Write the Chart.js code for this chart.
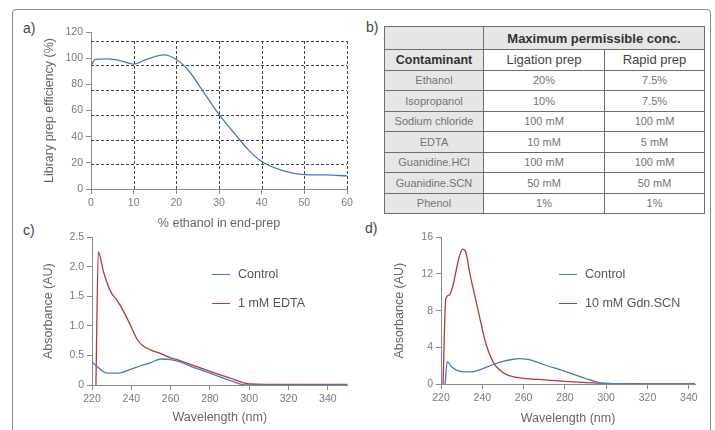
<!DOCTYPE html>
<html>
<head>
<meta charset="utf-8">
<script src="https://cdn.jsdelivr.net/npm/chart.js@4.4.0/dist/chart.umd.min.js"></script>
<style>
  body { margin: 0; width: 715px; height: 430px; overflow: hidden; background: #fff; position: relative;
         font-family: "Liberation Sans", Arial, sans-serif; }
  #frame { position: absolute; left: 12px; top: 9px; width: 697px; height: 440px; border: 1px solid #8c8c8c; border-radius: 4px; }
  .lbl { position: absolute; font-size: 14px; color: #444; line-height: 16px; }
  canvas { position: absolute; }
  #tbl { position: absolute; left: 384px; top: 26px; width: 320px; border-collapse: collapse; table-layout: fixed; }
  #tbl td { border: 1px solid #6e6e6e; text-align: center; padding: 0; font-size: 11px; color: #747474; height: 19.5px; }
  #tbl td.g { background: #e6e6e6; }
  #tbl tr.h1 td { height: 22px; font-size: 13px; font-weight: bold; color: #333; }
  #tbl tr.h2 td { height: 19.5px; font-size: 13px; color: #444; }
  #tbl tr.h2 td.g { font-weight: bold; color: #333; font-size: 12.5px; }
  .legend { position: absolute; font-size: 12.5px; color: #555; }
  .legend div { position: relative; height: 29px; line-height: 14px; }
  .legend span.ln { position: absolute; top: 7px; height: 0; border-top: 1.3px solid; width: 18px; left: 0; }
  .legend span.tx { position: absolute; left: 26px; top: 0; white-space: nowrap; }
</style>
</head>
<body>
<div id="frame"></div>
<div class="lbl" style="left:23px; top:20px;">a)</div>
<div class="lbl" style="left:366px; top:19px;">b)</div>
<div class="lbl" style="left:23px; top:222px;">c)</div>
<div class="lbl" style="left:365px; top:220px;">d)</div>

<canvas id="chartA" width="330" height="220" style="left:28px; top:18px; width:330px; height:220px;"></canvas>
<canvas id="chartC" width="330" height="200" style="left:28px; top:228px; width:330px; height:200px;"></canvas>
<canvas id="chartD" width="330" height="200" style="left:375px; top:228px; width:330px; height:200px;"></canvas>

<table id="tbl">
  <colgroup><col style="width:99px"><col style="width:121px"><col style="width:100px"></colgroup>
  <tr class="h1"><td class="g"></td><td class="g" colspan="2">Maximum permissible conc.</td></tr>
  <tr class="h2"><td class="g">Contaminant</td><td>Ligation prep</td><td>Rapid prep</td></tr>
</table>

<div class="legend" id="legendC" style="left:212px; top:267px;"></div>
<div class="legend" id="legendD" style="left:559px; top:267px;"></div>

<script>
Chart.defaults.font.family = '"Liberation Sans", Arial, sans-serif';

// a) library prep efficiency vs ethanol
var ethanolPct = [0, 1, 4, 7, 10, 13, 17, 20, 23, 26, 30, 34, 37, 40, 45, 50, 55, 60];
var prepEfficiency = [94, 99, 99.5, 98, 95.5, 99, 102.5, 99, 90, 76, 57, 41, 29.5, 21, 14, 11, 10.8, 10];
var ethanolTicks = [0, 10, 20, 30, 40, 50, 60];
var efficiencyTicks = [0, 20, 40, 60, 80, 100, 120];
var efficiencyGrid = [18.9, 37.8, 56.7, 75.6, 94.5, 113.3];

// b) table
var contaminants = ["Ethanol", "Isopropanol", "Sodium chloride", "EDTA", "Guanidine.HCl", "Guanidine.SCN", "Phenol"];
var ligationConc = ["20%", "10%", "100 mM", "10 mM", "100 mM", "50 mM", "1%"];
var rapidConc = ["7.5%", "7.5%", "100 mM", "5 mM", "100 mM", "50 mM", "1%"];

// c) EDTA spectra
var controlNmC = [220, 223, 226, 228, 233, 240, 245, 250, 255, 260, 265, 270, 280, 290, 296, 300, 350];
var controlAbsC = [0.39, 0.3, 0.22, 0.2, 0.2, 0.27, 0.33, 0.38, 0.44, 0.43, 0.39, 0.32, 0.2, 0.08, 0.01, 0, 0];
var edtaNm = [222, 223.2, 226, 229.5, 233, 236, 240, 243, 246, 250, 255, 260, 265, 270, 280, 290, 300, 320, 350];
var edtaAbs = [0, 2.25, 1.9, 1.58, 1.42, 1.25, 0.98, 0.77, 0.66, 0.59, 0.53, 0.46, 0.41, 0.35, 0.23, 0.12, 0.02, 0.01, 0.01];
var nmTicksC = [220, 240, 260, 280, 300, 320, 340];
var absTicksC = [0, 0.5, 1.0, 1.5, 2.0, 2.5];
var absLabelsC = ["0", "0.5", "1.0", "1.5", "2.0", "2.5"];

// d) Gdn.SCN spectra
var controlNmD = [222, 223, 225, 228, 231, 235, 240, 245, 250, 255, 258, 262, 265, 270, 280, 290, 297, 300, 320, 343];
var controlAbsD = [0, 2.45, 1.9, 1.45, 1.32, 1.32, 1.65, 2.1, 2.47, 2.7, 2.76, 2.68, 2.5, 2.1, 1.38, 0.6, 0.12, 0.06, 0.02, 0];
var gdnNm = [221, 222.3, 224, 225.5, 227, 228.5, 230.5, 232, 234, 236, 238, 240, 242, 245, 248, 252, 256, 260, 270, 280, 290, 300, 320, 343];
var gdnAbs = [0, 9.3, 9.7, 10.5, 12.0, 13.6, 14.7, 14.4, 12.0, 10.0, 8.0, 6.0, 4.2, 2.5, 1.6, 1.0, 0.75, 0.62, 0.45, 0.28, 0.16, 0.07, 0.02, 0];
var nmTicksD = [220, 240, 260, 280, 300, 320, 340];
var absTicksD = [0, 4, 8, 12, 16];

var blue = "#4779c4";
var red = "#b8363a";

function points(xs, ys) {
  var out = [];
  for (var i = 0; i < xs.length; i++) {
    out.push({x: xs[i], y: ys[i]});
  }
  return out;
}

function series(label, xs, ys, color) {
  return {
    label: label,
    data: points(xs, ys),
    borderColor: color,
    borderWidth: 1.3,
    pointRadius: 0,
    fill: false,
    cubicInterpolationMode: "monotone"
  };
}

function makeAxis(min, max, tickValues, tickLabels, titleText, titlePad, size, isX) {
  return {
    type: "linear",
    min: min,
    max: max,
    afterBuildTicks: function(scale) {
      scale.ticks = tickValues.map(function(v) { return {value: v}; });
    },
    afterFit: function(scale) {
      if (isX) { scale.height = size; } else { scale.width = size; }
    },
    border: {display: true, color: "#8a8a8a", width: 1},
    grid: {display: true, drawOnChartArea: false, drawTicks: true, tickLength: 5, color: "#8a8a8a"},
    ticks: {
      color: "#7a7a7a",
      font: {size: 10.5},
      padding: 3,
      autoSkip: false,
      maxRotation: 0,
      callback: function(v, i) { return tickLabels ? tickLabels[i] : String(v); }
    },
    title: {display: true, text: titleText, color: "#666", font: {size: 12.5}, padding: titlePad}
  };
}

// dashed grid of panel a
var dashGrid = {
  id: "dashGrid",
  beforeDatasetsDraw: function(chart) {
    var ctx = chart.ctx;
    var x = chart.scales.x;
    var y = chart.scales.y;
    var top = efficiencyGrid[efficiencyGrid.length - 1];
    ctx.save();
    ctx.strokeStyle = "#444";
    ctx.lineWidth = 1;
    ctx.setLineDash([3, 2]);
    efficiencyGrid.forEach(function(v) {
      var py = Math.round(y.getPixelForValue(v)) + 0.5;
      ctx.beginPath();
      ctx.moveTo(x.getPixelForValue(ethanolTicks[0]), py);
      ctx.lineTo(x.getPixelForValue(ethanolTicks[ethanolTicks.length - 1]), py);
      ctx.stroke();
    });
    ethanolTicks.slice(1).forEach(function(v) {
      var px = Math.round(x.getPixelForValue(v)) + 0.5;
      ctx.beginPath();
      ctx.moveTo(px, y.getPixelForValue(0));
      ctx.lineTo(px, y.getPixelForValue(top));
      ctx.stroke();
    });
    ctx.restore();
  }
};

function drawChart(id, datasets, xAxis, yAxis, pad, plugins) {
  var ctx = document.getElementById(id).getContext("2d");
  return new Chart(ctx, {
    type: "line",
    data: {datasets: datasets},
    options: {
      responsive: false,
      animation: false,
      layout: {padding: pad},
      plugins: {legend: {display: false}, tooltip: {enabled: false}},
      scales: {x: xAxis, y: yAxis}
    },
    plugins: plugins || []
  });
}

function drawLegend(id, datasets) {
  var box = document.getElementById(id);
  datasets.forEach(function(ds) {
    var row = document.createElement("div");
    row.innerHTML = '<span class="ln" style="border-color:' + ds.borderColor + '"></span><span class="tx">' + ds.label + '</span>';
    box.appendChild(row);
  });
}

function fillTable() {
  var tbl = document.getElementById("tbl");
  for (var i = 0; i < contaminants.length; i++) {
    var tr = tbl.insertRow(-1);
    var c0 = tr.insertCell(-1); c0.className = "g"; c0.textContent = contaminants[i];
    tr.insertCell(-1).textContent = ligationConc[i];
    tr.insertCell(-1).textContent = rapidConc[i];
  }
}

// panel a
drawChart("chartA",
  [series("Efficiency", ethanolPct, prepEfficiency, blue)],
  makeAxis(0, 60, ethanolTicks, null, "% ethanol in end-prep", {top: 0, bottom: 6.5}, 49, true),
  makeAxis(0, 120, efficiencyTicks, null, "Library prep efficiency (%)", {top: 14.5, bottom: 0}, 63, false),
  {left: 0, top: 14, right: 11, bottom: 0},
  [dashGrid]);

// panel b
fillTable();

// panel c
var dsC = [
  series("Control", controlNmC, controlAbsC, blue),
  series("1 mM EDTA", edtaNm, edtaAbs, red)
];
drawChart("chartC", dsC,
  makeAxis(220, 350, nmTicksC, null, "Wavelength (nm)", {top: 0, bottom: 2.5}, 43, true),
  makeAxis(0, 2.5, absTicksC, absLabelsC, "Absorbance (AU)", {top: 13.5, bottom: 0}, 64, false),
  {left: 0, top: 9, right: 10.5, bottom: 0});
drawLegend("legendC", dsC);

// panel d
var dsD = [
  series("Control", controlNmD, controlAbsD, blue),
  series("10 mM Gdn.SCN", gdnNm, gdnAbs, red)
];
drawChart("chartD", dsD,
  makeAxis(220, 343, nmTicksD, null, "Wavelength (nm)", {top: 0, bottom: 1.5}, 44, true),
  makeAxis(0, 16, absTicksD, null, "Absorbance (AU)", {top: 16.8, bottom: 0}, 66, false),
  {left: 0, top: 9, right: 10, bottom: 0});
drawLegend("legendD", dsD);
</script>
</body>
</html>
